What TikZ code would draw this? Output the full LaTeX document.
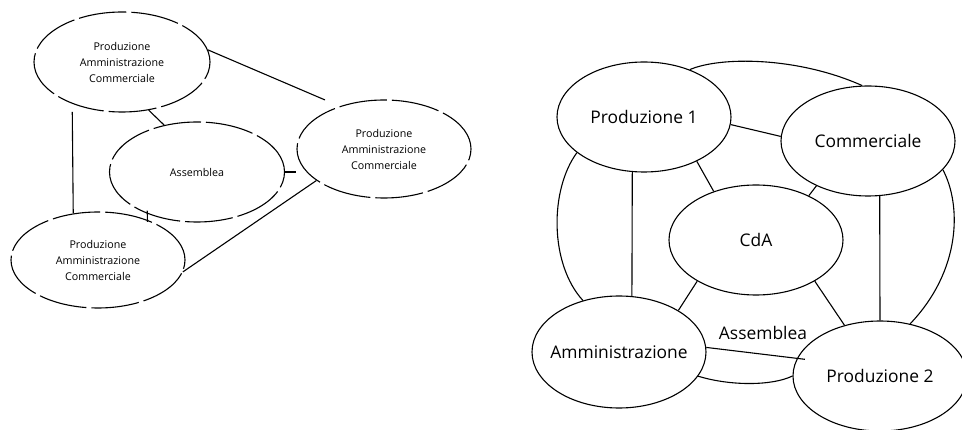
\documentclass[tikz,border=0pt]{standalone}
\usepackage{fontspec}
\setmainfont{Open Sans}
\usetikzlibrary{shapes.geometric}

\begin{document}
\begin{tikzpicture}[x=1pt,y=-1pt,
    organo/.style={ellipse, draw, line width=1.1pt, inner sep=0pt, align=center},
    rotto/.style={organo, dash pattern=on 48pt off 5pt, font=\fontsize{10.7}{16}\selectfont},
    pieno/.style={organo, minimum width=174pt, minimum height=110pt, font=\fontsize{17.4}{20}\selectfont},
    filo/.style={line width=1.1pt}]

    % Page frame (962 x 430)
    \useasboundingbox (0,0) rectangle (962,430);

    % Left: three identical units around the assembly
    \foreach \name/\x/\y/\w/\h in {top/122/62/176/100, rgt/384/149/174/98, bot/98/260/174/96} {
        \node[rotto, minimum width=\w pt, minimum height=\h pt] (\name) at (\x,\y) {Produzione\\Amministrazione\\Commerciale};
    }
    \node[rotto, minimum width=175pt, minimum height=100pt] (assL) at (197,172) {Assemblea};

    % Left: links
    \draw[filo, shorten >=16pt] (top.8) -- (rgt.136);
    \draw[filo] (top.-61) -- (assL.125);
    \draw[filo, shorten <=8pt] (top.-140) -- (bot.118.5);
    \draw[filo] (assL.east) -- (rgt.west |- assL.east);
    \draw[filo] (rgt.-155) -- (bot.-8);
    \draw[filo, shorten <=-3pt, shorten >=-2pt] (assL.-140) -- (bot.39); % small tick

    % Right: the five bodies
    \node[pieno] (prod1) at (644,117) {Produzione 1};
    \node[pieno] (comm) at (868,141) {Commerciale};
    \node[pieno] (cda) at (756,240) {CdA};
    \node[pieno, minimum height=112pt] (amm) at (619,352) {\makebox[100pt]{Amministrazione}};
    \node[pieno] (prod2) at (880,376) {Produzione 2};

    % Right: straight links
    \draw[filo] (prod1.-5) -- (comm.177);
    \draw[filo] (prod1.-102) -- (amm.77);
    \draw[filo] (comm.-78) -- (prod2.90);
    \draw[filo] (prod1.-40) -- (cda.131);
    \draw[filo] (comm.-139) -- (cda.40);
    \draw[filo] (cda.-145) -- (amm.35);
    \draw[filo] (cda.-35) -- (prod2.125);
    \draw[filo, shorten >=-8pt] (amm.3) -- (prod2.168);

    % Right: outer ring
    \draw[filo] (prod1.46) .. controls (720,56.5) and (797,56.5) .. (comm.96);
    \draw[filo] (prod1.-152) .. controls (549.5,190) and (549.5,264) .. (amm.125);
    \draw[filo] (comm.-21) .. controls (961.5,205) and (961.5,270) .. (prod2.60);
    \draw[filo] (amm.-17) .. controls (730,386) and (772,386) .. (prod2.180);

    % Label of the ring
    \node[font=\fontsize{17.4}{20}\selectfont] (ass) at (763,333) {Assemblea};
\end{tikzpicture}
\end{document}
